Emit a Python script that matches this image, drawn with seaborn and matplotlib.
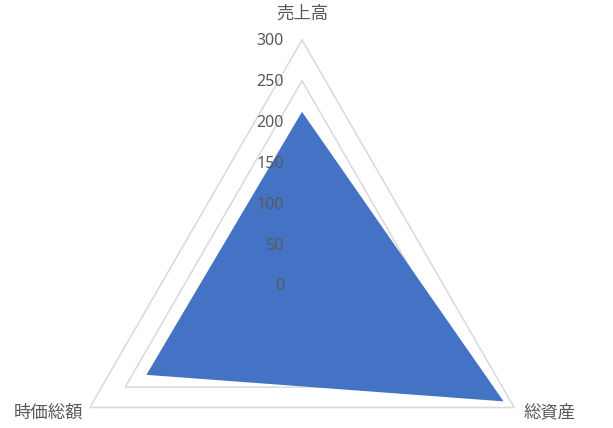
import numpy as np
import matplotlib
matplotlib.use("Agg")
import matplotlib.pyplot as plt
import seaborn as sns

# data
categories = ["売上高", "総資産", "時価総額"]
values = [212, 285, 220]
ticks = [0, 50, 100, 150, 200, 250, 300]

sns.set_theme(style="white")
plt.rcParams["font.family"] = ["Noto Sans CJK JP", "DejaVu Sans"]

fig = plt.figure(figsize=(6.13, 4.28), dpi=100)
W, H = 613, 428
cx, cy, R = 302, 428 - 285, 245
ax = fig.add_axes([(cx - R) / W, (cy - R) / H, 2 * R / W, 2 * R / H], polar=True)
ax.set_theta_offset(np.pi / 2)
ax.set_theta_direction(-1)
ax.set_ylim(0, 300)
ax.grid(False)
ax.spines["polar"].set_visible(False)
ax.set_xticks([])
ax.set_yticks([])
ax.patch.set_alpha(0)

angles = np.linspace(0, 2 * np.pi, len(categories), endpoint=False)
closed = np.append(angles, angles[0])

# polygon grid
for t in ticks[1:]:
    ax.plot(closed, [t] * len(closed), color="#D9D9D9", lw=1.1, zorder=1, clip_on=False)

vals = values + values[:1]
ax.fill(closed, vals, color="#4472C4", zorder=2, lw=0)

# radial labels
for t in ticks:
    ax.annotate(str(t), xy=(0, t), xytext=(-13, -1), textcoords="offset points",
                ha="right", va="center", fontsize=11.5, color="#595959", zorder=3,
                family=["Noto Sans", "DejaVu Sans"], annotation_clip=False)

# category labels
offsets = [((0, 19), "center"), ((7, -3.5), "left"), ((-4.5, -3.5), "right")]
for ang, cat, (off, ha) in zip(angles, categories, offsets):
    ax.annotate(cat, xy=(ang, 300), xytext=off, textcoords="offset points",
                ha=ha, va="center", fontsize=12.5, color="#595959",
                annotation_clip=False)

fig.savefig("out.png", dpi=100, facecolor="white")
